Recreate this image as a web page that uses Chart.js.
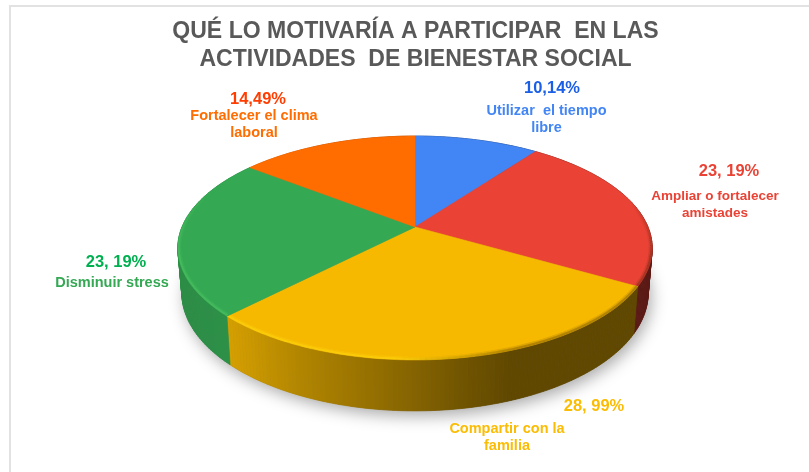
<!DOCTYPE html>
<html><head><meta charset="utf-8">
<style>html,body{margin:0;padding:0;background:#fff;overflow:hidden}#wrap{position:relative;width:809px;height:472px}</style>
<script src="https://cdn.jsdelivr.net/npm/chart.js@4"></script>
</head><body><div id="wrap"><canvas id="c" width="809" height="472"></canvas></div>
<script>
const categories = ["Utilizar el tiempo libre","Ampliar o fortalecer amistades","Compartir con la familia","Disminuir stress","Fortalecer el clima laboral"];
const values = [10.14,23.19,28.99,23.19,14.49];
const valueLabels = ["10,14%","23, 19%","28, 99%","23, 19%","14,49%"];
const nameLines = [["Utilizar  el tiempo","libre"],["Ampliar o fortalecer","amistades"],["Compartir con la","familia"],["Disminuir stress"],["Fortalecer el clima","laboral"]];
const colors = ["#4285f4","#ea4335","#f7b900","#34a853","#ff6d00"];
const valueColors = ["#1a5fe6","#ea4335","#fbbc04","#00b050","#ff3d00"];
const nameColors = ["#4285f4","#ea4335","#fbbc04","#34a853","#ff6d00"];
const titleLines = ["QUÉ LO MOTIVARÍA A PARTICIPAR  EN LAS","ACTIVIDADES  DE BIENESTAR SOCIAL"];

// layout of the outside labels: [value x, value y, name x, first name y, name font size]
const labelPlaces = [[552,88,546.5,111,14.5],[729,171,715,196,13.5],[594,406,507,429,14.5],[116,262,112,283,14.5],[258,99,254,116,14.5]];

// perspective of the disk
const persp = {c:0.1875, ax:1.0264, ay:0.4758};
function project(arc, theta, lower){
  const R = arc.outerRadius, X = Math.sin(theta), Y = Math.cos(theta), d = 1 + persp.c*Y;
  let x = arc.x + persp.ax*R*X/d, y = arc.y - persp.ay*R*Y/d;
  if(lower){ x = arc.x + (x-arc.x)*0.983; y = y + 47 + (y-285)*0.053; }
  return [x,y];
}
const toTheta = a => a + Math.PI/2;
const shadeStops = [[170,.84],[229,.86],[300,.72],[400,.56],[460,.46],[510,.39],[660,.39]];
function shadeAt(x){
  for(let i=1;i<shadeStops.length;i++){
    const [x0,s0]=shadeStops[i-1],[x1,s1]=shadeStops[i];
    if(x<=x1) return s0+(s1-s0)*Math.max(0,(x-x0))/(x1-x0);
  }
  return .39;
}
function rgb(hex){return [1,3,5].map(i=>parseInt(hex.substr(i,2),16));}
const clamp01 = v => Math.min(1,Math.max(0,v));

// the library's arc elements are drawn through the perspective above
Chart.ArcElement.prototype.draw = function(ctx){
  const o=this.options, N=90, a0=toTheta(this.startAngle), a1=toTheta(this.endAngle);
  ctx.save();
  ctx.beginPath(); ctx.moveTo(this.x,this.y);
  for(let i=0;i<=N;i++){const p=project(this,a0+(a1-a0)*i/N); ctx.lineTo(p[0],p[1]);}
  ctx.closePath();
  ctx.fillStyle=o.backgroundColor; ctx.fill();
  ctx.strokeStyle=o.backgroundColor; ctx.lineWidth=.6; ctx.stroke();
  ctx.clip();
  // bevel along the rim: light on the left and front, dark on the front right
  const c=rgb(o.backgroundColor);
  for(let i=0;i<N;i++){
    const p=project(this,a0+(a1-a0)*i/N), q=project(this,a0+(a1-a0)*(i+1)/N);
    const th=a0+(a1-a0)*(i+.5)/N, front=clamp01((-Math.cos(th)+.45)/.7);
    const right=clamp01((p[0]-400)/120);
    const lift=(1-right)*front;
    const dark=right*clamp01((-Math.cos(th)+.25)/.5);
    for(const [w,al] of [[7,.22],[4,.45]]){
      ctx.beginPath();ctx.moveTo(p[0],p[1]);ctx.lineTo(q[0],q[1]);
      ctx.lineWidth=w;ctx.lineCap='butt';
      if(lift>0){
        ctx.strokeStyle=`rgba(${Math.min(255,c[0]+30)},${Math.min(255,c[1]+32)},${Math.min(255,c[2]+18)},${al*lift})`;
        ctx.stroke();
      }
      if(dark>0){
        ctx.strokeStyle=`rgba(50,30,0,${al*dark*.55})`;ctx.stroke();
      }
    }
  }
  ctx.restore();
};

const walls = {
  id:'walls',
  beforeDatasetsDraw(chart){
    const ctx=chart.ctx, arcs=chart.getDatasetMeta(0).data;
    if(!arcs.length) return;
    // frame
    ctx.save();
    ctx.fillStyle='#e2e2e2';
    ctx.fillRect(9,5,800,2); ctx.fillRect(9,5,2,467);
    // soft shadow of the base
    ctx.save();
    ctx.shadowColor='rgba(0,0,0,.34)';ctx.shadowBlur=16;ctx.shadowOffsetY=5;ctx.shadowOffsetX=3;
    ctx.fillStyle='#777';
    ctx.beginPath();
    for(let i=0;i<=180;i++){const p=project(arcs[0],i/180*2*Math.PI,true); i?ctx.lineTo(p[0],p[1]):ctx.moveTo(p[0],p[1]);}
    ctx.closePath();ctx.fill();
    ctx.restore();
    // side wall, one thin strip at a time
    arcs.forEach((arc,k)=>{
      const a0=toTheta(arc.startAngle),a1=toTheta(arc.endAngle),N=Math.ceil((a1-a0)*60),c=rgb(colors[k]);
      for(let i=0;i<N;i++){
        const t0=a0+(a1-a0)*i/N,t1=a0+(a1-a0)*(i+1)/N;
        const p=project(arc,t0),q=project(arc,t1),r=project(arc,t1,true),s=project(arc,t0,true);
        const f=shadeAt((p[0]+q[0])/2);
        const col=`rgb(${c.map(v=>Math.round(v*f)).join(',')})`;
        ctx.beginPath();ctx.moveTo(p[0],p[1]);ctx.lineTo(q[0],q[1]);ctx.lineTo(r[0],r[1]);ctx.lineTo(s[0],s[1]);ctx.closePath();
        ctx.fillStyle=col;ctx.strokeStyle=col;ctx.lineWidth=.7;ctx.fill();ctx.stroke();
      }
    });
    ctx.restore();
  },
  afterDatasetsDraw(chart){
    const ctx=chart.ctx;
    ctx.save();
    ctx.textAlign='center';ctx.textBaseline='middle';
    categories.forEach((_,k)=>{
      const [vx,vy,nx,ny,fs]=labelPlaces[k];
      ctx.font='bold 16.5px "Liberation Sans",Arial,sans-serif';
      ctx.fillStyle=valueColors[k];
      ctx.fillText(valueLabels[k],vx,vy);
      ctx.font=`bold ${fs}px "Liberation Sans",Arial,sans-serif`;
      ctx.fillStyle=nameColors[k];
      nameLines[k].forEach((t,j)=>ctx.fillText(t,nx,ny+j*17));
    });
    ctx.restore();
  }
};

new Chart(document.getElementById('c'),{
  type:'pie',
  data:{labels:categories,datasets:[{data:values,backgroundColor:colors,borderWidth:0}]},
  options:{
    responsive:false,animation:false,
    layout:{padding:{left:21,bottom:18}},
    plugins:{legend:{display:false},tooltip:{enabled:false},title:{display:false}}
  },
  plugins:[walls,{
    id:'titleText',
    afterDraw(chart){
      const ctx=chart.ctx;ctx.save();
      ctx.translate(415.5,0);ctx.scale(.96,1);
      ctx.textAlign='center';ctx.textBaseline='middle';ctx.fillStyle='#595959';
      ctx.font='bold 24px "Liberation Sans",Arial,sans-serif';
      ctx.fillText(titleLines[0],0,31);
      ctx.fillText(titleLines[1],0,59);
      ctx.restore();
    }
  }]
});
</script></body></html>
